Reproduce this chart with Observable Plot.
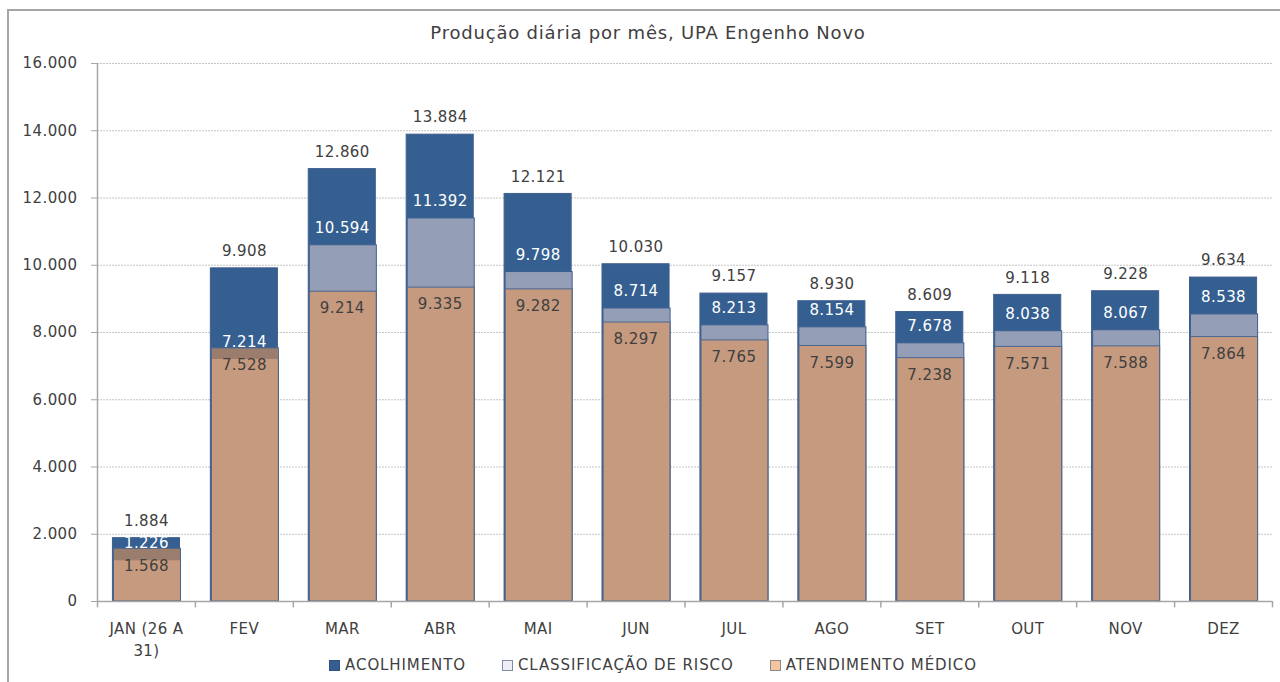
<!DOCTYPE html>
<html><head><meta charset="utf-8">
<script src="https://cdn.jsdelivr.net/npm/d3@7"></script>
<script src="https://cdn.jsdelivr.net/npm/@observablehq/plot@0.6"></script>
<style>
body{margin:0;background:#fff;font-family:"DejaVu Sans",sans-serif;color:#404040;overflow:hidden;width:1280px;height:682px}
#frame{position:absolute;left:7px;top:9px;width:1400px;height:800px;border-left:2px solid #a6a6a6;border-top:2px solid #a6a6a6}
#title{position:absolute;left:0;top:22px;width:1296px;text-align:center;font-size:18px;letter-spacing:0.8px;line-height:22px}
#chart{position:absolute;left:0;top:45px}
#legend{position:absolute;left:0;top:657px;width:1306px;display:flex;justify-content:center;gap:36px;font-size:15px;letter-spacing:0.9px;line-height:16px}
#legend span.item{display:flex;align-items:center;gap:5px}
#legend span.sw{display:inline-block;width:9px;height:9px;border:1px solid #7f8da8}
</style></head>
<body>
<div id="frame"></div>
<div id="title">Produção diária por mês, UPA Engenho Novo</div>
<div id="chart"></div>
<div id="legend"></div>
<script>
const months = ["JAN (26 A\n31)","FEV","MAR","ABR","MAI","JUN","JUL","AGO","SET","OUT","NOV","DEZ"];
const acolhimento = [1884,9908,12860,13884,12121,10030,9157,8930,8609,9118,9228,9634];
const classificacao = [1226,7214,10594,11392,9798,8714,8213,8154,7678,8038,8067,8538];
const atendimento = [1568,7528,9214,9335,9282,8297,7765,7599,7238,7571,7588,7864];
const yTicks = [0,2000,4000,6000,8000,10000,12000,14000,16000];
const seriesNames = ["ACOLHIMENTO","CLASSIFICAÇÃO DE RISCO","ATENDIMENTO MÉDICO"];

const loc = d3.formatLocale({decimal:",", thousands:".", grouping:[3], currency:["R$",""]});
const fmt = loc.format(",d");

const rows = months.map((m,i)=>({m, a:acolhimento[i], c:classificacao[i], t:atendimento[i]}));

const W = 1280, ML = 97, MR = 8;
const step = (W - ML - MR) / months.length;
const dark = "#355f91", light = "#949fb7", tan = "rgb(238,150,80)", edge = "#3f5f8e";

const chart = Plot.plot({
  width: W, height: 630,
  marginLeft: ML, marginRight: MR, marginTop: 18, marginBottom: 74,
  style: {fontFamily: "DejaVu Sans, sans-serif", color: "#404040", letterSpacing: "0.4px", background: "transparent"},
  x: {domain: months, paddingInner: 0.315, paddingOuter: 0.1575, round: false, label: null},
  y: {domain: [0,16000], label: null},
  marks: [
    Plot.gridY(yTicks.filter(d=>d>0), {stroke: "#c4c4c4", strokeOpacity: 1, strokeDasharray: "2,1"}),
    Plot.barY(rows, {x: "m", y: "a", fill: dark, stroke: edge, strokeWidth: 1}),
    Plot.barY(rows, {x: "m", y: "c", fill: light, stroke: edge, strokeWidth: 1, dx: 1}),
    Plot.barY(rows, {x: "m", y: "t", fill: tan, fillOpacity: 0.55, stroke: "#4a6690", strokeWidth: 1, dx: 1}),
    Plot.ruleY([0], {stroke: "#a6a6a6", strokeWidth: 1.5}),
    Plot.ruleX(months, {x: d=>d, dx: -step/2, y1: 0, y2: -190, stroke: "#a6a6a6", strokeWidth: 1.5}),
    Plot.ruleX([months[months.length-1]], {x: d=>d, dx: step/2, y1: 0, y2: -190, stroke: "#a6a6a6", strokeWidth: 1.5}),
    Plot.ruleX([months[0]], {x: d=>d, dx: -step/2, y1: 0, y2: 16000, stroke: "#a6a6a6", strokeWidth: 1.5}),
    Plot.axisY({ticks: yTicks, tickFormat: fmt, tickSize: 6, tickPadding: 14, fontSize: 15, stroke: "#a6a6a6", fill: "#404040"}),
    Plot.axisX({tickSize: 0, tickPadding: 17, fontSize: 15, lineHeight: 1.45, fill: "#404040"}),
    Plot.text(rows, {x: "m", y: "a", text: d=>fmt(d.a), dy: -17, fontSize: 15, fill: "#404040"}),
    Plot.text(rows, {x: "m", y: "c", text: d=>fmt(d.c), dy: -17, fontSize: 15, fill: "#ffffff"}),
    Plot.text(rows, {x: "m", y: "t", text: d=>fmt(d.t), dy: 17, fontSize: 15, fill: "#404040"})
  ]
});
document.getElementById("chart").appendChild(chart);

const swatches = [
  {bg: dark, border: "#2f5283"},
  {bg: "#eeeef4", border: "#7f8da8"},
  {bg: "#f6c59f", border: "#8a8a8a"}
];
const leg = document.getElementById("legend");
seriesNames.forEach((n,i)=>{
  const it = document.createElement("span"); it.className="item";
  const sw = document.createElement("span"); sw.className="sw";
  sw.style.background = swatches[i].bg; sw.style.borderColor = swatches[i].border;
  const tx = document.createElement("span"); tx.textContent = n;
  it.appendChild(sw); it.appendChild(tx); leg.appendChild(it);
});
</script>
</body></html>
